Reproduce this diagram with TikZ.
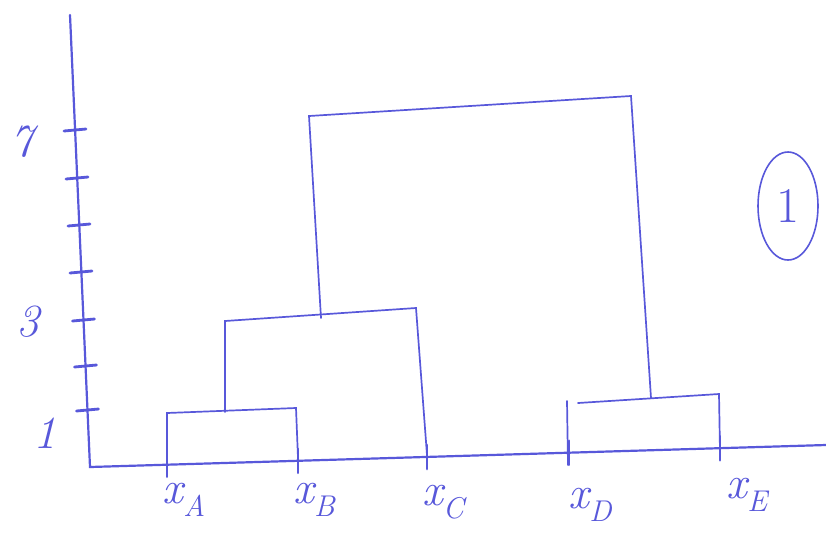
\documentclass[tikz,border=0pt]{standalone}
\usetikzlibrary{shapes.geometric}
\definecolor{ink}{RGB}{88,88,218}
\newcommand{\leaflabel}[1]{\itshape x\raisebox{-0.28em}{\fontsize{30}{30}\selectfont #1}}
\begin{document}
\begin{tikzpicture}[x=1pt,y=-1pt,
  axis/.style={draw=ink,line width=2.2pt,line cap=round},
  tickmark/.style={draw=ink,line width=2.8pt,line cap=round},
  branch/.style={draw=ink,line width=1.7pt,line cap=round},
  lbl/.style={text=ink,inner sep=0pt,font=\fontsize{46}{48}\selectfont},
  num/.style={text=ink,inner sep=0pt,font=\fontsize{46}{48}\selectfont\itshape}]
\useasboundingbox (0,0) rectangle (826,542);
% axes
\coordinate (ytop) at (70,15);
\coordinate (orig) at (90,467);
\coordinate (xend) at (826,445);
\draw[axis] (ytop) -- (orig) -- (xend);
% y ticks
\foreach \yy/\xx in {130/75,178/77,225/79,272/81,320/83.5,366/85.5,410/87.5}{
  \coordinate (tl) at (\xx-11,\yy+1);
  \coordinate (tr) at (\xx+11,\yy-1);
  \draw[tickmark] (tl) -- (tr);
}
% x ticks
\foreach \xx/\yy in {167/464.7,298/460.8,427/457,569/452.7,720/448.2}{
  \coordinate (tu) at (\xx,\yy-12);
  \coordinate (td) at (\xx,\yy+12);
  \draw[tickmark] (tu) -- (td);
}
% y labels
\node[num] (l7) at (22,142) {7};
\node[num] (l3) at (28,322) {3};
\node[num] (l1) at (45,433) {1};
% x labels
\node[lbl] (xa) at (184,500) {\leaflabel{A}};
\node[lbl] (xb) at (314,500) {\leaflabel{B}};
\node[lbl] (xc) at (443,502) {\leaflabel{C}};
\node[lbl] (xd) at (590,505) {\leaflabel{D}};
\node[lbl] (xe) at (747,495) {\leaflabel{E}};
% leaves
\coordinate (A0) at (167,462);
\coordinate (B0) at (298,458);
\coordinate (C0) at (427,455);
\coordinate (D0) at (568,465);
\coordinate (E0) at (720,452);
% AB
\coordinate (A1) at (167,413);
\coordinate (B1) at (296,408);
\draw[branch] (A0) -- (A1) -- (B1) -- (B0);
\coordinate (AB0) at (225,412);
\coordinate (AB1) at (225,321);
\coordinate (C1) at (416,308);
\draw[branch] (AB0) -- (AB1) -- (C1) -- (C0);
% DE
\coordinate (D1) at (567,401);
\coordinate (D2) at (578,403);
\coordinate (E1) at (719,394);
\draw[branch] (D0) -- (D1);
\draw[branch] (D2) -- (E1) -- (E0);
% top
\coordinate (ABC0) at (321,318);
\coordinate (ABC1) at (309,116);
\coordinate (DE1) at (631,96);
\coordinate (DE0) at (651,398);
\draw[branch] (ABC0) -- (ABC1) -- (DE1) -- (DE0);
% circled 1
\node[draw=ink,line width=1.6pt,ellipse,inner sep=0pt,minimum width=60pt,minimum height=108pt,text=ink,font=\fontsize{50}{52}\selectfont] (circ) at (788,206) {1};
\end{tikzpicture}
\end{document}
